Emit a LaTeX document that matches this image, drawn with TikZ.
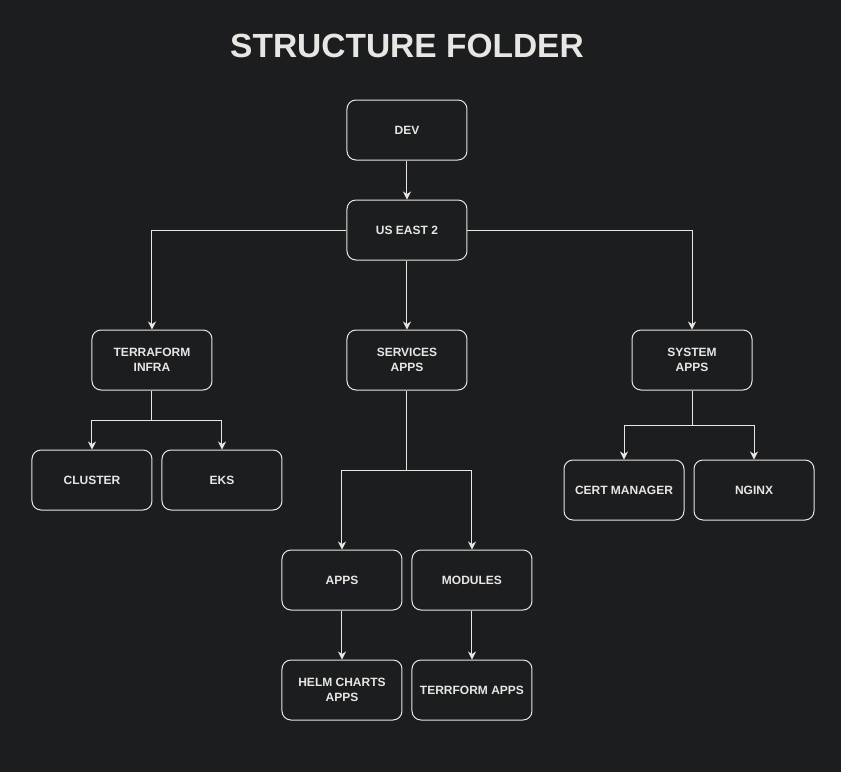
\documentclass[tikz,border=0pt]{standalone}
\usepackage{fontspec}
\setmainfont{Liberation Sans}
\usepackage{tikz}
\usetikzlibrary{shapes.geometric, arrows.meta, positioning}
\definecolor{bgdark}{RGB}{28,29,31}
\definecolor{fgline}{RGB}{232,230,227}
\tikzstyle{folder} = [rectangle, rounded corners=9pt, minimum width=120pt, minimum height=60pt, inner sep=0pt, text centered, align=center, draw=fgline, line width=1pt, text=fgline, font=\bfseries\fontsize{12}{15}\selectfont]
\tikzstyle{heading} = [text=fgline, font=\bfseries\fontsize{33.5}{40}\selectfont]
\tikzstyle{arrow} = [line width=1pt, draw=fgline, ->, >={Stealth[length=8pt, width=8pt, inset=2.5pt]}]

\begin{document}
\begin{tikzpicture}[x=1pt, y=1pt, node distance=100pt]
\fill [bgdark] (-407,130) rectangle (434,-642);
\useasboundingbox (-407,130) rectangle (434,-642);
\node (dev) [folder] {DEV};
\node (title) [heading, above of=dev, yshift=-16pt] {STRUCTURE FOLDER};
\node (us) [folder, below of=dev] {US EAST 2};
\node (services) [folder, below of=us, yshift=-30pt] {SERVICES\\APPS};
\node (terraform) [folder, left of=services, xshift=-155pt] {TERRAFORM\\INFRA};
\node (system) [folder, right of=services, xshift=185pt] {SYSTEM\\APPS};
\node (cluster) [folder, below of=terraform, xshift=-60pt, yshift=-20pt] {CLUSTER};
\node (eks) [folder, right of=cluster, xshift=30pt] {EKS};
\node (cert) [folder, below of=system, xshift=-68pt, yshift=-30pt] {CERT MANAGER};
\node (nginx) [folder, right of=cert, xshift=30pt] {NGINX};
\node (apps) [folder, below of=services, xshift=-65pt, yshift=-120pt] {APPS};
\node (modules) [folder, right of=apps, xshift=30pt] {MODULES};
\node (helm) [folder, below of=apps, yshift=-10pt] {HELM CHARTS\\APPS};
\node (terrapps) [folder, below of=modules, yshift=-10pt] {TERRFORM APPS};
\draw [arrow] (dev) -- (us);
\draw [arrow] (us) -| (terraform);
\draw [arrow] (us) -- (services);
\draw [arrow] (us) -| (system);
\draw [arrow] (terraform.south) -- ++(0,-30) -| (cluster.north);
\draw [arrow] (terraform.south) -- ++(0,-30) -| (eks.north);
\draw [arrow] (services.south) -- ++(0,-80) -| (apps.north);
\draw [arrow] (services.south) -- ++(0,-80) -| (modules.north);
\draw [arrow] (system.south) -- ++(0,-35) -| (cert.north);
\draw [arrow] (system.south) -- ++(0,-35) -| (nginx.north);
\draw [arrow] (apps) -- (helm);
\draw [arrow] (modules) -- (terrapps);
\end{tikzpicture}
\end{document}
